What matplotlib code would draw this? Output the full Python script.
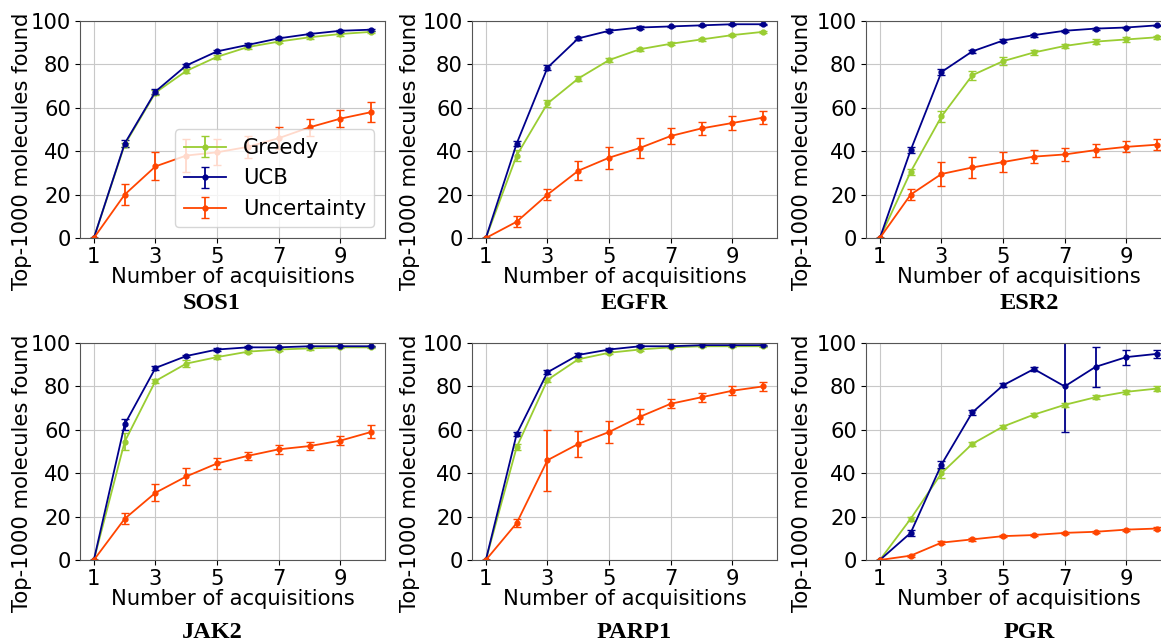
import matplotlib
matplotlib.use("Agg")
import matplotlib.pyplot as plt

acq = [1, 2, 3, 4, 5, 6, 7, 8, 9, 10]
targets = ["SOS1", "EGFR", "ESR2", "JAK2", "PARP1", "PGR"]

# rows follow targets
greedy_mean = [
    [0, 43, 67, 77, 83.5, 88, 90.5, 92.5, 94, 95],
    [0, 38, 62, 73.5, 82, 87, 89.5, 91.5, 93.5, 95],
    [0, 30.5, 56, 75, 81.5, 85.5, 88.5, 90.5, 91.5, 92.5],
    [0, 54.5, 82.5, 90.5, 93.5, 96, 97, 97.5, 98, 98],
    [0, 52, 83, 92.5, 95.5, 97, 98, 98.5, 98.5, 98.5],
    [0, 19, 40, 53.5, 61.5, 67, 71.5, 75, 77.5, 79],
]
greedy_err = [
    [0, 1, 1, 1, 1, 0.8, 0.8, 0.7, 0.7, 0.6],
    [0, 2.5, 1.5, 1, 1, 0.7, 0.6, 0.5, 0.5, 0.5],
    [0, 1.5, 2.5, 2, 2, 1.3, 1, 1, 1, 0.7],
    [0, 4, 1, 1.5, 1, 0.7, 0.5, 0.5, 0.4, 0.4],
    [0, 1.5, 1, 0.8, 0.7, 0.5, 0.4, 0.3, 0.3, 0.3],
    [0, 1, 2, 1, 0.7, 0.7, 1, 1, 1, 1],
]
ucb_mean = [
    [0, 43.5, 67.5, 79.5, 86, 89, 92, 94, 95.5, 96],
    [0, 43.5, 78.5, 92, 95.5, 97, 97.5, 98, 98.5, 98.5],
    [0, 40.5, 76.5, 86, 91, 93.5, 95.5, 96.5, 97, 98],
    [0, 62.5, 88.5, 94, 97, 98, 98, 98.5, 98.5, 98.5],
    [0, 58, 86.5, 94.5, 97, 98.5, 98.5, 99, 99, 99],
    [0, 12.5, 44, 68, 80.5, 88, 80, 89, 93.5, 95],
]
ucb_err = [
    [0, 1.5, 1, 0.8, 0.8, 0.7, 0.6, 0.5, 0.5, 0.5],
    [0, 1.2, 1, 0.8, 0.6, 0.5, 0.4, 0.3, 0.3, 0.3],
    [0, 1.5, 1.5, 0.8, 0.7, 0.7, 0.5, 0.5, 0.4, 0.3],
    [0, 2.5, 0.8, 0.5, 0.5, 0.4, 0.3, 0.3, 0.3, 0.3],
    [0, 1, 1, 0.8, 0.5, 0.4, 0.3, 0.3, 0.3, 0.3],
    [0, 1.5, 1.5, 1.2, 1, 0.8, 21, 9.3, 3.5, 2],
]
unc_mean = [
    [0, 20, 33, 38, 39.5, 42, 46, 51, 55, 58],
    [0, 7.5, 20, 31, 37, 41.5, 47, 50.5, 53, 55.5],
    [0, 20, 29.5, 32.5, 35, 37.5, 38.5, 40.5, 42, 43],
    [0, 19, 31, 38.5, 44.5, 48, 51, 52.5, 55, 59],
    [0, 17, 46, 53.5, 59, 66, 72, 75, 78, 80],
    [0, 2, 8, 9.5, 11, 11.5, 12.5, 13, 14, 14.5],
]
unc_err = [
    [0, 5, 6.5, 7.5, 6, 5, 5, 4, 4, 4.5],
    [0, 2.5, 2.5, 4.5, 5, 4.5, 3.5, 3, 3, 3],
    [0, 2.5, 5.5, 5, 4.5, 3, 3, 3, 2.5, 2.5],
    [0, 2.5, 4, 4, 2.5, 2, 2, 2, 2, 3],
    [0, 2, 14, 6, 5, 3.5, 2, 2, 2, 2],
    [0, 0.5, 0.7, 0.7, 0.5, 0.5, 0.5, 0.5, 0.5, 0.5],
]

W, H = 1161, 643
fig = plt.figure(figsize=(W / 100, H / 100), dpi=100)

lefts = [80, 472, 866]
tops = [21, 343]
ax_w, ax_h = 305, 217
title_x = [212, 634, 1029]
title_y = [304, 632]
ylab_x = [-0.157, -0.17, -0.177]

fs = 15.2
for i, name in enumerate(targets):
    r, c = divmod(i, 3)
    ax = fig.add_axes([lefts[c] / W, 1 - (tops[r] + ax_h) / H, ax_w / W, ax_h / H])
    ax.errorbar(acq, greedy_mean[i], yerr=greedy_err[i], color="yellowgreen",
                marker="o", ms=3.5, lw=1.3, capsize=3, label="Greedy")
    ax.errorbar(acq, ucb_mean[i], yerr=ucb_err[i], color="darkblue",
                marker="o", ms=3.5, lw=1.3, capsize=3, label="UCB")
    ax.errorbar(acq, unc_mean[i], yerr=unc_err[i], color="orangered",
                marker="o", ms=3.5, lw=1.3, capsize=3, label="Uncertainty")
    ax.set_ylim(0, 100)
    ax.set_xticks([1, 3, 5, 7, 9])
    ax.set_yticks([0, 20, 40, 60, 80, 100])
    ax.tick_params(labelsize=fs, pad=3)
    ax.grid(True, color="#c8c8c8", lw=0.8)
    ax.set_axisbelow(True)
    for s in ax.spines.values():
        s.set_color("#555555")
    ax.set_xlabel("Number of acquisitions", fontsize=fs, labelpad=0)
    ax.set_ylabel("Top-1000 molecules found", fontsize=fs)
    ax.yaxis.set_label_coords(ylab_x[c], 0.40)
    if i == 0:
        ax.legend(loc="lower right", fontsize=fs)
    fig.text(title_x[c] / W, 1 - title_y[r] / H, name, ha="center", va="center",
             fontsize=17.5, fontweight="bold", family="Liberation Serif")

fig.savefig("out.png", dpi=100)
